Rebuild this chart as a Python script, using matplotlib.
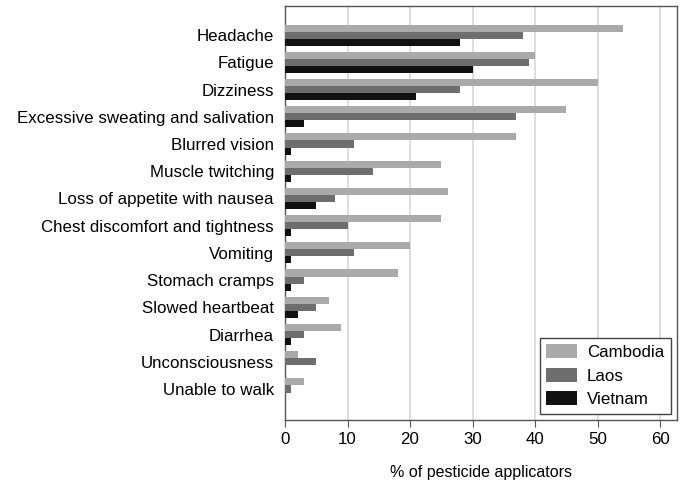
import numpy as np
import matplotlib
matplotlib.use("Agg")
import matplotlib.pyplot as plt

plt.rcParams['font.family'] = ['Liberation Sans', 'DejaVu Sans']

# Symptoms reported, top to bottom
symptoms = [
    "Headache", "Fatigue", "Dizziness", "Excessive sweating and salivation",
    "Blurred vision", "Muscle twitching", "Loss of appetite with nausea",
    "Chest discomfort and tightness", "Vomiting", "Stomach cramps",
    "Slowed heartbeat", "Diarrhea", "Unconsciousness", "Unable to walk",
]
cambodia = [54, 40, 50, 45, 37, 25, 26, 25, 20, 18, 7, 9, 2, 3]
laos = [38, 39, 28, 37, 11, 14, 8, 10, 11, 3, 5, 3, 5, 1]
vietnam = [28, 30, 21, 3, 1, 1, 5, 1, 1, 1, 2, 1, 0, 0]

countries = ["Cambodia", "Laos", "Vietnam"]
colors = ["#aaaaaa", "#6e6e6e", "#111111"]

fig = plt.figure(figsize=(6.82, 4.84), dpi=100)
ax = fig.add_axes([285 / 682, 1 - 420 / 484, 392 / 682, 414 / 484])

n = len(symptoms)
y = np.arange(n)[::-1]
h = 0.26
for k, (vals, name, c) in enumerate(zip([cambodia, laos, vietnam], countries, colors)):
    ax.barh(y + (1 - k) * h, vals, height=h, color=c, label=name, zorder=3)

ax.set_xlim(0, 62.7)
ax.set_ylim(-1.14, n - 1 + 1.07)
ax.set_xticks(range(0, 61, 10))
ax.set_yticks(y)
ax.set_yticklabels(symptoms, fontsize=12.2)
ax.tick_params(axis='y', length=0, pad=8)
ax.tick_params(axis='x', labelsize=12.2, direction='out', length=5, color='#555555')
ax.grid(axis='x', color='#d8d8d8', linewidth=1.2, zorder=0)
for s in ax.spines.values():
    s.set_color('#555555')
    s.set_linewidth(1)

ax.set_xlabel("% of pesticide applicators", fontsize=11.5, labelpad=13)

leg = ax.legend(loc='lower right', fontsize=12.2, fancybox=False, framealpha=1,
                edgecolor='#444444', handlelength=1.8, handleheight=0.9,
                handletextpad=0.6, borderaxespad=0.35, labelspacing=0.45)
leg.get_frame().set_linewidth(1)

fig.savefig("out.png", dpi=100)
